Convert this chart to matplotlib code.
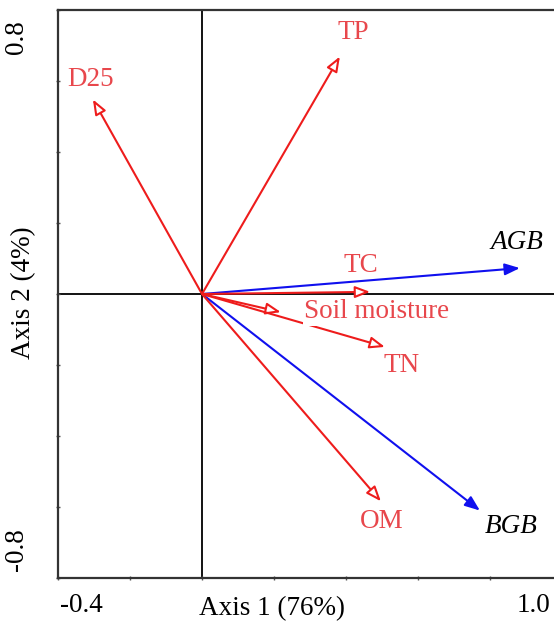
import matplotlib.pyplot as plt

plt.rcParams['font.family'] = ['Liberation Serif', 'DejaVu Serif']

# environmental variables (red) and response variables (blue)
env_names = ['D25', 'TP', 'TC', 'Soil moisture', 'TN', 'OM']
env_x = [-0.303, 0.383, 0.467, 0.219, 0.508, 0.497]
env_y = [0.548, 0.669, 0.006, -0.051, -0.149, -0.584]

resp_names = ['AGB', 'BGB']
resp_x = [0.883, 0.772]
resp_y = [0.073, -0.610]

# label positions for each arrow
env_lab_x = [-0.31, 0.42, 0.44, 0.485, 0.555, 0.50]
env_lab_y = [0.605, 0.737, 0.080, -0.050, -0.200, -0.640]
resp_lab_x = [0.874, 0.860]
resp_lab_y = [0.145, -0.655]

red = '#ee1c1c'
red_txt = '#e8474c'
blue = '#1010ee'
fs = 19.5
head = '-|>,head_length=0.9,head_width=0.35'

fig = plt.figure(figsize=(5.54, 6.28), dpi=100)
ax = fig.add_axes([58 / 554, 50 / 628, 504 / 554, 568 / 628])
ax.set_xlim(-0.4, 1.0)
ax.set_ylim(-0.8, 0.8)

ax.axhline(0, color='black', lw=1.3, zorder=1)
ax.axvline(0, color='black', lw=1.3, zorder=1)

for i, name in enumerate(env_names):
    ax.annotate('', xy=(env_x[i], env_y[i]), xytext=(0, 0),
                arrowprops=dict(arrowstyle=head, fc='white', ec=red, lw=1.5,
                                shrinkA=0, shrinkB=0),
                zorder=3)
for i, name in enumerate(resp_names):
    ax.annotate('', xy=(resp_x[i], resp_y[i]), xytext=(0, 0),
                arrowprops=dict(arrowstyle=head, fc=blue, ec=blue, lw=1.5,
                                shrinkA=0, shrinkB=0),
                zorder=2)

for i, name in enumerate(env_names):
    bbox = None
    if name == 'Soil moisture':
        bbox = dict(fc='white', ec='none', pad=1)
    ax.text(env_lab_x[i], env_lab_y[i], name, color=red_txt, fontsize=fs,
            ha='center', va='center', bbox=bbox, zorder=4)
for i, name in enumerate(resp_names):
    ax.text(resp_lab_x[i], resp_lab_y[i], name, color='black', fontsize=fs,
            style='italic', ha='center', va='center', zorder=4)

ax.set_xticks([-0.4, -0.2, 0.0, 0.2, 0.4, 0.6, 0.8, 1.0])
ax.set_yticks([-0.8, -0.6, -0.4, -0.2, 0.0, 0.2, 0.4, 0.6, 0.8])
ax.tick_params(length=3, width=1, color='#555555', direction='inout',
               labelbottom=False, labelleft=False)
for s in ax.spines.values():
    s.set_linewidth(1.6)
    s.set_color('#333333')

fig.text(60 / 554, 1 - 605 / 628, '-0.4', fontsize=fs, ha='left', va='center')
fig.text(550 / 554, 1 - 605 / 628, '1.0', fontsize=fs, ha='right', va='center')
fig.text(16 / 554, 1 - 20 / 628, '0.8', fontsize=fs, rotation=90, ha='center', va='top')
fig.text(16 / 554, 1 - 571 / 628, '-0.8', fontsize=fs, rotation=90,
         ha='center', va='bottom')

fig.text(272 / 554, 1 - 609 / 628, 'Axis 1 (76%)', fontsize=fs, ha='center', va='center')
fig.text(24 / 554, 1 - 293 / 628, 'Axis 2 (4%)', fontsize=fs, rotation=90,
         ha='center', va='center')

fig.savefig('out.png', dpi=100)
